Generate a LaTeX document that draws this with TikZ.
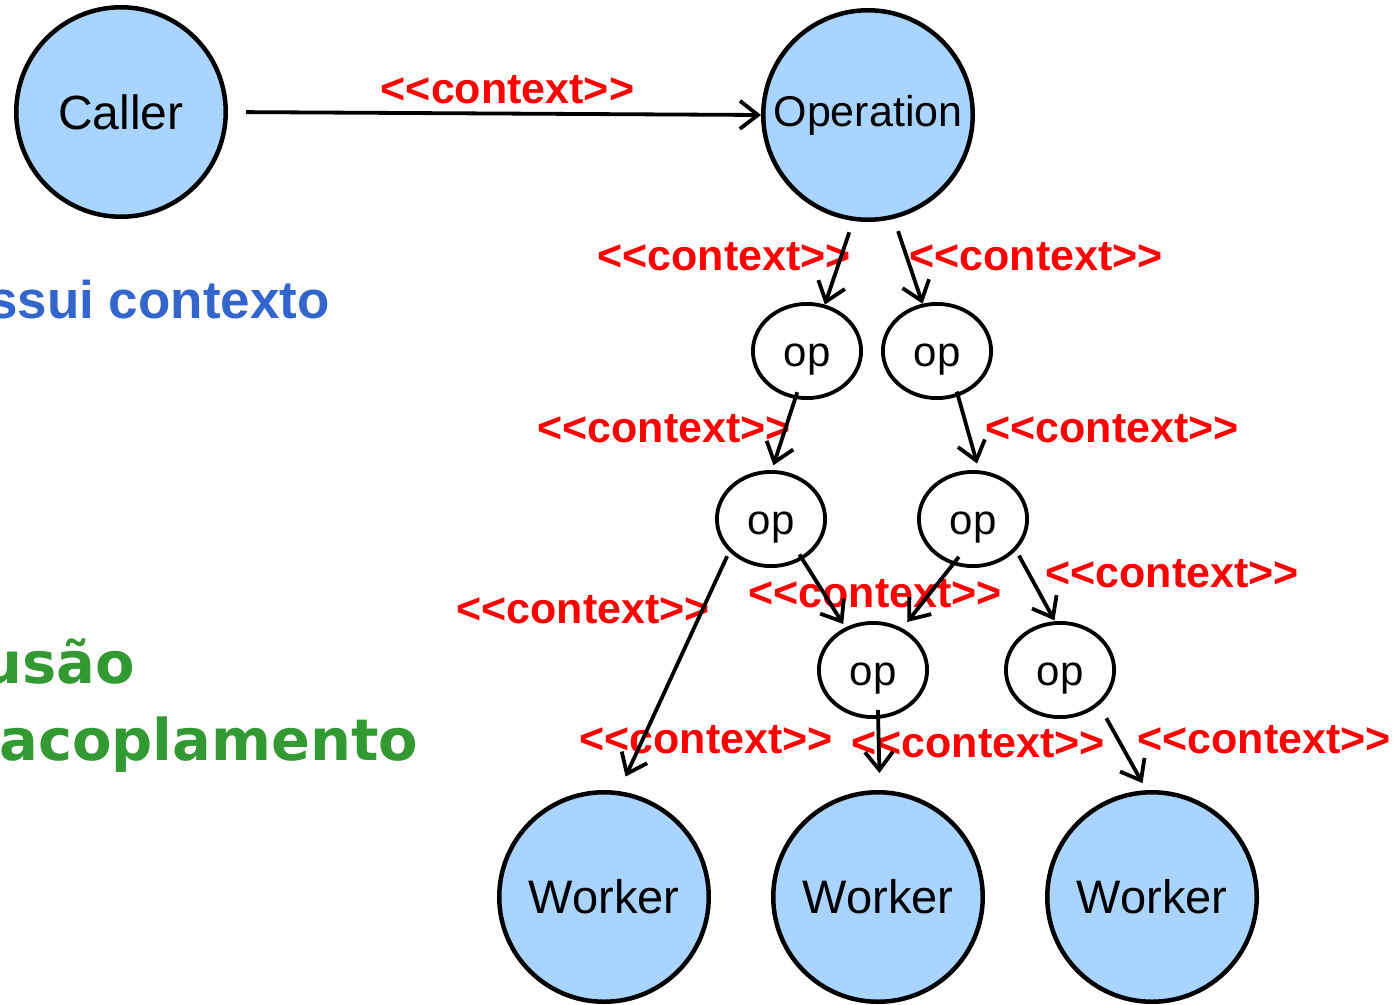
\documentclass[tikz,border=0pt]{standalone}
\usepackage{fontspec}
\setmainfont{Liberation Sans}
\newfontfamily\versans{DejaVu Sans}
\usetikzlibrary{shapes.geometric,arrows.meta}
\definecolor{nodefill}{RGB}{168,212,255}
\definecolor{ctxred}{RGB}{255,0,0}
\definecolor{noteblue}{RGB}{51,102,204}
\definecolor{notegreen}{RGB}{51,153,51}
% kerns keep the angle brackets from merging into guillemets
\newcommand\ctxlabel{<\kern0pt<context>\kern0pt>}
\begin{document}
\begin{tikzpicture}[x=1pt,y=-1pt,
  big/.style={circle, draw=black, line width=4.5pt, fill=nodefill,
    minimum size=209.5pt, inner sep=0pt},
  small/.style={ellipse, draw=black, line width=3.8pt,
    minimum width=108.2pt, minimum height=94.2pt, inner sep=0pt,
    font=\fontsize{42}{50}\selectfont, text height=30pt, text depth=0pt},
  ctx/.style={text=ctxred, font=\fontsize{43}{50}\selectfont\bfseries,
    anchor=base, inner sep=0pt},
  flow/.style={line width=3.8pt,
    -{Straight Barb[length=18pt,width=28pt,line width=3.8pt]}},
  note/.style={anchor=base west, inner sep=0pt},
]
\useasboundingbox (0,0) rectangle (1399,1004);
\fill[white] (0,0) rectangle (1399,1004);

% main actors
\node[big, font=\fontsize{48}{56}\selectfont] (caller) at (121,112) {Caller};
\node[big, font=\fontsize{43}{50}\selectfont] (oper) at (868,115) {Operation};

% intermediate operations
\node[small] (op1) at (807,351) {op};
\node[small] (op2) at (937,351) {op};
\node[small] (op3) at (771,519) {op};
\node[small] (op4) at (973,519) {op};
\node[small] (op5) at (873,670) {op};
\node[small] (op6) at (1060,670) {op};

% workers
\node[big, font=\fontsize{47}{56}\selectfont] (w1) at (604,897) {Worker};
\node[big, font=\fontsize{47}{56}\selectfont] (w2) at (878,897) {Worker};
\node[big, font=\fontsize{47}{56}\selectfont] (w3) at (1152,897) {Worker};

% side notes
\node[note, text=noteblue, font=\fontsize{53}{60}\selectfont\bfseries]
  (possui) at (-12,318) {ssui contexto};
\node[note, text=notegreen, font=\versans\fontsize{57.5}{77}\selectfont\bfseries]
  (coesao) at (-19,683) {usão};
\node[note, text=notegreen, font=\versans\fontsize{57.5}{77}\selectfont\bfseries]
  (acopl) at (-1,760) {acoplamento};

% context labels
\node[ctx] (l0) at (507.5,103) {\ctxlabel};
\node[ctx] (l1) at (724,270) {\ctxlabel};
\node[ctx] (l2) at (1036,270) {\ctxlabel};
\node[ctx] (l3) at (664,442) {\ctxlabel};
\node[ctx] (l4) at (1112,442) {\ctxlabel};
\node[ctx] (l5) at (583,623) {\ctxlabel};
\node[ctx] (l6) at (875,607) {\ctxlabel};
\node[ctx] (l7) at (1172,587) {\ctxlabel};
\node[ctx] (l8) at (706,753) {\ctxlabel};
\node[ctx] (l9) at (978,757) {\ctxlabel};
\node[ctx] (l10) at (1264,753) {\ctxlabel};

% context propagation
\draw[flow, shorten <=18pt] (caller.east) -- (oper.west);
\draw[flow, shorten <=12pt] (oper.-98) -- (op1.69);
\draw[flow, shorten <=13pt] (oper.-76) -- (op2.107);
\draw[flow, shorten <=-7pt, shorten >=5pt] (op1.-104) -- (op3.89);
\draw[flow, shorten <=-5pt, shorten >=7pt] (op2.-65) -- (op4.83);
\draw[flow, shorten <=5pt, shorten >=16pt] (op3.218) -- (w1.82);
\draw[flow, shorten <=-6pt, shorten >=4pt] (op3.-52) -- (op5.123);
\draw[flow, shorten <=-10pt, shorten >=8pt] (op4.-114) -- (op5.55);
\draw[flow, shorten <=6pt, shorten >=1pt] (op4.-36) -- (op6.96);
\draw[flow, shorten <=-9pt, shorten >=17pt] (op5.-84) -- (w2.89.5);
\draw[flow, shorten <=15pt, shorten >=8pt] (op6.-42) -- (w3.93.5);
\end{tikzpicture}
\end{document}
